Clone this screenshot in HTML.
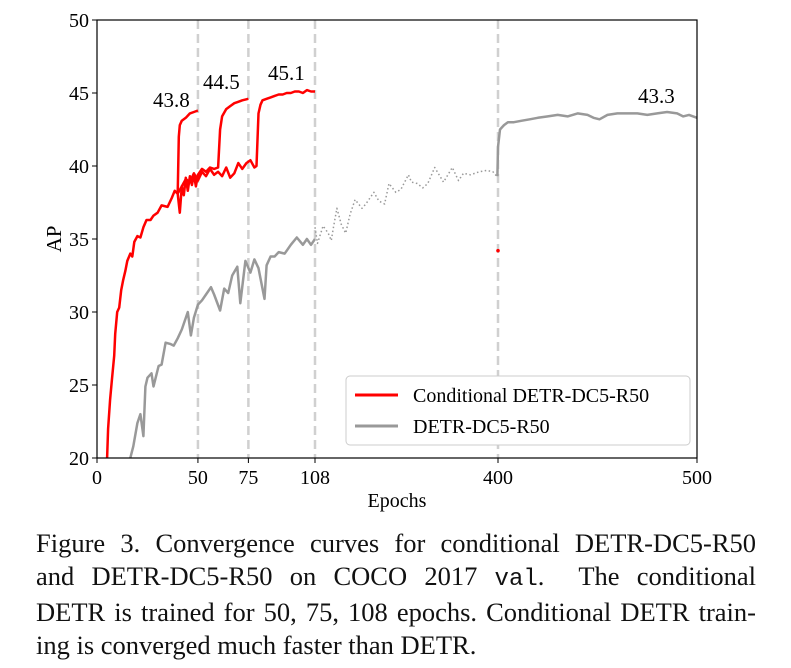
<!DOCTYPE html>
<html><head><meta charset="utf-8"><style>
body{margin:0;background:#fff;width:791px;height:668px;overflow:hidden;font-family:"Liberation Serif",serif}
#cap{position:absolute;left:36px;top:527px;width:720px;font-size:26.5px;line-height:33px;color:#111}
#cap div{text-align:justify;text-align-last:justify;white-space:nowrap}
#cap div.last{text-align-last:left}
#cap .m{font-family:"Liberation Mono",monospace;font-size:24px}
</style></head><body>
<svg id="chart" width="791" height="520" style="position:absolute;left:0;top:0" font-family="Liberation Serif, serif"></svg>
<div id="cap">
<div>Figure 3. Convergence curves for conditional DETR-DC5-R50</div>
<div>and DETR-DC5-R50 on COCO 2017 <span class="m">val</span>.&nbsp; The conditional</div>
<div>DETR is trained for 50, 75, 108 epochs. Conditional DETR train-</div>
<div class="last">ing is converged much faster than DETR.</div>
</div>
<script>
const xTicks=[0,50,75,108,400,500];
const yTicks=[20,25,30,35,40,45,50];
const dashedEpochs=[50,75,108,400];
const cond50E=[5,5.5,6.5,7.5,8.5,9,10,11,12,13,14,15,16.5,17.5,18.5,20,21.5,23,24.5,26.5,28,30,32,35,37,38.5,40,40.5,41,42,44,46,48,50];
const cond50V=[20,22,24,25.5,27,28.5,30,30.3,31.5,32.2,32.8,33.5,34,33.8,34.8,35.2,35.1,35.8,36.3,36.3,36.6,36.8,37.3,37.2,37.8,38.3,38.1,42,42.8,43.1,43.3,43.6,43.7,43.8];
const cond75E=[40,41,42,43,44,45,46,47,48,49,50,52,54,56,58,60,61,62,64,66,68,70,72,75];
const cond75V=[38.1,36.8,38.6,38,39.2,38.3,39.3,38.7,39.4,38.6,39.4,39.8,39.6,39.9,39.8,39.9,42.5,43.4,43.9,44.1,44.3,44.4,44.5,44.6];
const cond108E=[40,42,44,46,48,50,52,54,56,58,60,62,64,66,68,70,72,74,76,78,79,80,81,82,84,86,88,90,92,94,96,98,100,102,104,106,108];
const cond108V=[38.1,38.6,39.1,38.9,39.5,39,39.6,39.3,39.8,39.4,39.6,39.3,39.9,39.2,39.5,40.2,39.8,40.2,40.4,39.9,40.0,43.6,44.2,44.5,44.6,44.7,44.8,44.9,44.9,45.0,45.0,45.1,45.1,45.0,45.2,45.1,45.1];
const detrE=[16.5,18,20,21.5,23,24,25,27,28,30.5,32,34,36.5,38,40,42,45,46.5,48,50,52,54,56.5,58,61,63,65,67,69.5,71,73.5,76,78,80,83,84,86,88,90,93,96,99,102,104,106,108];
const detrV=[20,20.8,22.4,23,21.5,24.9,25.5,25.8,24.9,26.3,26.4,27.9,27.8,27.7,28.2,28.8,30,28.4,29.6,30.5,30.8,31.2,31.7,31.2,30.1,31.6,31.3,32.5,33.1,30.6,33.5,32.7,33.6,33.0,30.9,33.2,33.8,33.8,34.1,34.0,34.6,35.1,34.6,35.0,34.6,35.0];
const dottedE=[108,112,121,129,134,137,143,150,157,164,172,183,189,202,210,219,226,237,245,257,262,271,280,288,299,313,327,337,345,356,370,382,392,398];
const dottedV=[35.8,34.7,35.9,35.4,34.9,35.7,37.1,36.0,35.4,36.7,37.7,37.1,37.4,38.2,37.6,37.4,38.8,38.2,38.4,39.4,38.9,38.8,38.5,38.8,39.9,38.9,39.9,39.0,39.5,39.4,39.6,39.7,39.6,39.3];
const detrLongE=[399,400,401,403,405,408,412,416,420,425,430,435,440,445,448,451,455,460,465,470,475,480,485,490,493,496,500];
const detrLongV=[39.3,41.3,42.5,42.8,43.0,43.0,43.1,43.2,43.3,43.4,43.5,43.4,43.6,43.5,43.3,43.2,43.5,43.6,43.6,43.6,43.5,43.6,43.7,43.6,43.4,43.5,43.3];
const redDot=[400,34.2];
const labels=[["43.8",153,107],["44.5",203,89],["45.1",268,80],["43.3",638,103]];

const L=97,R=697,T=20,B=458;
function xs(e){
 if(e<=108) return L+e*(315-L)/108;
 if(e<=400) return 315+(e-108)*(498-315)/292;
 return 498+(e-400)*(R-498)/100;
}
function ys(v){return B-(v-20)*(B-T)/30;}
const svg=document.getElementById('chart');
const NS="http://www.w3.org/2000/svg";
function mk(t,a,p){const el=document.createElementNS(NS,t);for(const k in a)el.setAttribute(k,a[k]);(p||svg).appendChild(el);return el;}
dashedEpochs.forEach(e=>{
 const l=mk('line',{x1:xs(e),x2:xs(e),y1:T,y2:B,stroke:'#d0d0d0','stroke-width':2.5,'stroke-dasharray':'9,5'});
 
 
});
function path(E,V,st,w,name,dash){
 const d=E.map((e,i)=>(i?'L':'M')+xs(e).toFixed(1)+','+ys(V[i]).toFixed(1)).join('');
 const p=mk('path',{d:d,fill:'none',stroke:st,'stroke-width':w,'stroke-linejoin':'round'});
 if(dash)p.setAttribute('stroke-dasharray',dash);
 
 
}
path(detrE,detrV,'#999',2.5,'detr-line-short');
path(dottedE,dottedV,'#999',1.5,'detr-line-dotted','1.5,2.5');
path(detrLongE,detrLongV,'#999',2.5,'detr-line-long');
path(cond108E,cond108V,'#f00',2.5,'conditional-108-line');
path(cond75E,cond75V,'#f00',2.5,'conditional-75-line');
path(cond50E,cond50V,'#f00',2.5,'conditional-50-line');
const dot=mk('circle',{cx:xs(redDot[0]),cy:ys(redDot[1]),r:1.8,fill:'#f00'});


const fr=mk('rect',{x:L,y:T,width:R-L,height:B-T,fill:'none',stroke:'#000','stroke-width':1.2});


yTicks.forEach(v=>{
 mk('line',{x1:L-5,x2:L,y1:ys(v),y2:ys(v),stroke:'#000'});
 const t=mk('text',{x:L-8,y:ys(v)+7,'text-anchor':'end','font-size':20});t.textContent=v;
 
 
});
xTicks.forEach(v=>{
 mk('line',{x1:xs(v),x2:xs(v),y1:B,y2:B+5,stroke:'#000'});
 const t=mk('text',{x:xs(v),y:B+26,'text-anchor':'middle','font-size':20});t.textContent=v;
 
 
});
labels.forEach(a=>{
 const t=mk('text',{x:a[1],y:a[2],'font-size':21});t.textContent=a[0];
 
 
});
const yt=mk('text',{x:0,y:0,'font-size':21,'text-anchor':'middle',transform:'translate(61,239) rotate(-90)'});yt.textContent='AP';


const xt=mk('text',{x:397,y:507,'font-size':20,'text-anchor':'middle'});xt.textContent='Epochs';


const lg=mk('g',{});


mk('rect',{x:346,y:376,width:344,height:69,rx:4,fill:'#fff',stroke:'#ccc'},lg);
mk('line',{x1:355,x2:398,y1:395,y2:395,stroke:'#f00','stroke-width':3},lg);
mk('line',{x1:355,x2:398,y1:426,y2:426,stroke:'#999','stroke-width':3},lg);
const l1=mk('text',{x:413,y:402,'font-size':20},lg);l1.textContent='Conditional DETR-DC5-R50';


const l2=mk('text',{x:413,y:433,'font-size':20},lg);l2.textContent='DETR-DC5-R50';


</script>
</body></html>
